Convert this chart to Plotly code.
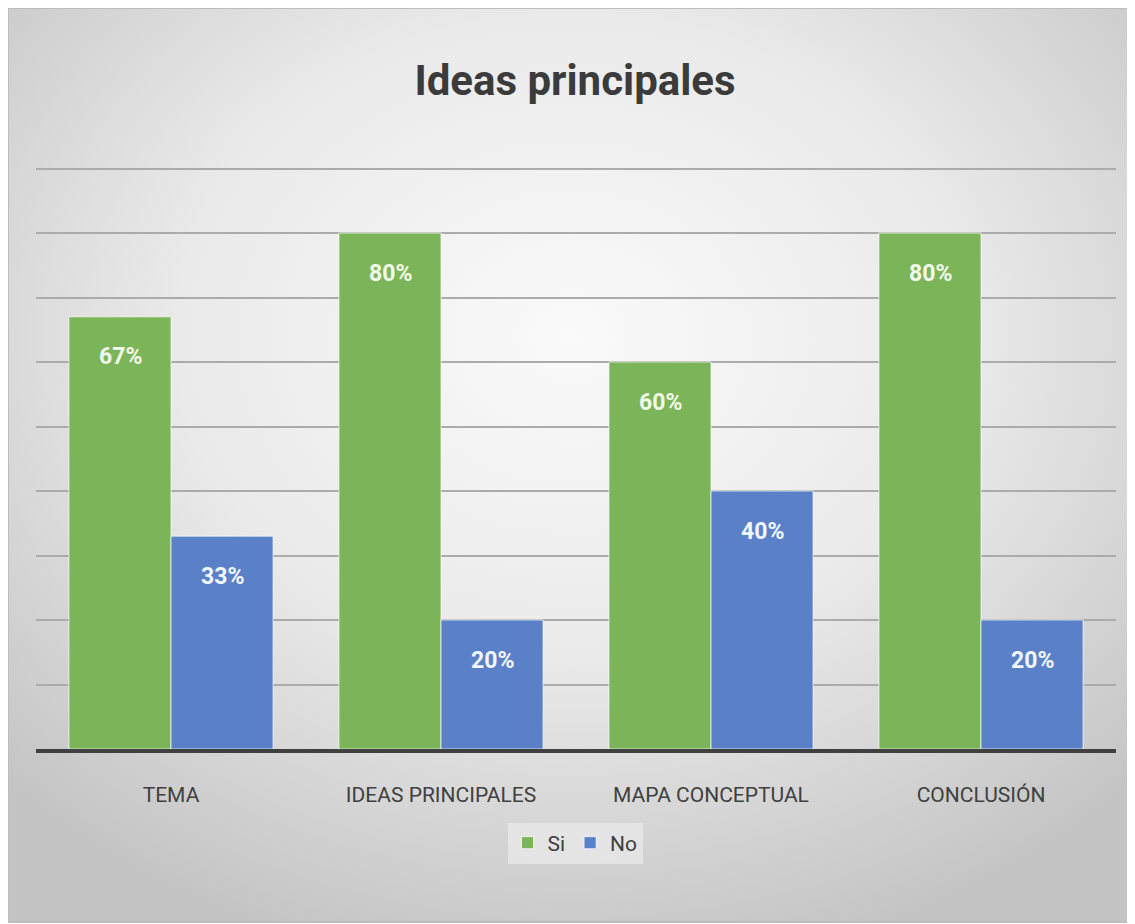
import base64
import plotly.graph_objects as go

categories = ["TEMA", "IDEAS PRINCIPALES", "MAPA CONCEPTUAL", "CONCLUSIÓN"]
si_values = [0.67, 0.80, 0.60, 0.80]
no_values = [0.33, 0.20, 0.40, 0.20]
si_labels = ["67%", "80%", "60%", "80%"]
no_labels = ["33%", "20%", "40%", "20%"]

# page body has an 8px margin; work in reference coordinates minus that offset
OFF = 8
W, H = 1135 - OFF, 924 - OFF
PLOT_L, PLOT_R, PLOT_T, PLOT_B = 36, 1116, 166, 749   # reference pixels
ML = PLOT_L - OFF
MR = 1135 - PLOT_R
MT = PLOT_T - OFF
MB = 924 - PLOT_B
PW = W - ML - MR
PH = H - MT - MB
YMAX = 0.9 * (PLOT_B - PLOT_T) / (PLOT_B - 168.5)

FONT = "Roboto, Lato, sans-serif"
GREEN = "#7cb45a"
BLUE = "#5a81c8"

svg = """<svg xmlns='http://www.w3.org/2000/svg' width='1128' height='916' preserveAspectRatio='none'>
<defs><radialGradient id='g' cx='50%' cy='36%' r='70%'>
<stop offset='0' stop-color='#fafafa'/>
<stop offset='0.5' stop-color='#eaeaea'/>
<stop offset='1' stop-color='#c4c4c4'/>
</radialGradient></defs>
<rect width='1128' height='916' fill='url(#g)'/></svg>"""
src = "data:image/svg+xml;base64," + base64.b64encode(svg.encode()).decode()

fig = go.Figure()
fig.add_trace(go.Bar(
    x=categories, y=si_values, name="Si",
    marker=dict(color=GREEN, line=dict(color="rgba(255,255,255,0.7)", width=1)),
    hoverinfo="skip",
))
fig.add_trace(go.Bar(
    x=categories, y=no_values, name="No",
    marker=dict(color=BLUE, line=dict(color="rgba(255,255,255,0.7)", width=1)),
    hoverinfo="skip",
))

annotations = []
for cat, v, t in zip(categories, si_values, si_labels):
    annotations.append(dict(x=cat, y=v, text="<b>%s</b>" % t, showarrow=False,
                            xshift=-51, yshift=-40, yanchor="middle",
                            font=dict(family=FONT, size=23, color="#f2fbe9")))
for cat, v, t in zip(categories, no_values, no_labels):
    annotations.append(dict(x=cat, y=v, text="<b>%s</b>" % t, showarrow=False,
                            xshift=51, yshift=-40, yanchor="middle",
                            font=dict(family=FONT, size=23, color="#f2f6fd")))

# full-figure frame (reference x=7..1135, y=6..922) in paper coordinates
def px_x(x):
    return (x - PLOT_L) / PW

def px_y(y):
    return (PLOT_B - y) / PH

fx0, fx1 = px_x(OFF), px_x(1134)
fy0, fy1 = px_y(922), px_y(OFF)

fig.update_layout(
    width=W, height=H,
    margin=dict(l=ML, r=MR, t=MT, b=MB),
    paper_bgcolor="white",
    plot_bgcolor="rgba(0,0,0,0)",
    barmode="group",
    bargap=0.244,
    bargroupgap=0,
    title=dict(text="<b>Ideas principales</b>", x=px_x(575), xanchor="center",
               xref="paper", y=1 - (80 - OFF) / H, yanchor="middle",
               font=dict(family=FONT, size=42, color="#3b3b3b")),
    showlegend=True,
    legend=dict(orientation="h", x=px_x(575), xanchor="center",
                y=px_y(843), yanchor="middle",
                bgcolor="rgba(242,242,242,0.55)",
                font=dict(family=FONT, size=21, color="#404040"),
                itemwidth=30, traceorder="normal"),
    xaxis=dict(showline=True, linecolor="#404040", linewidth=4,
               showgrid=False, ticks="", ticklabelstandoff=24,
               tickfont=dict(family=FONT, size=21, color="#404040")),
    yaxis=dict(range=[0, YMAX], dtick=0.1, showticklabels=False,
               showgrid=True, gridcolor="#ababab", gridwidth=2,
               zeroline=False, showline=False),
    annotations=annotations,
    images=[dict(source=src, xref="paper", yref="paper",
                 x=fx0, y=fy1, sizex=fx1 - fx0, sizey=fy1 - fy0,
                 xanchor="left", yanchor="top", sizing="stretch",
                 layer="below")],
    shapes=[dict(type="rect", xref="paper", yref="paper",
                 x0=fx0, x1=fx1, y0=fy0, y1=fy1,
                 line=dict(color="#bdbdbd", width=2), layer="below")],
)

fig.write_html("out.html")
